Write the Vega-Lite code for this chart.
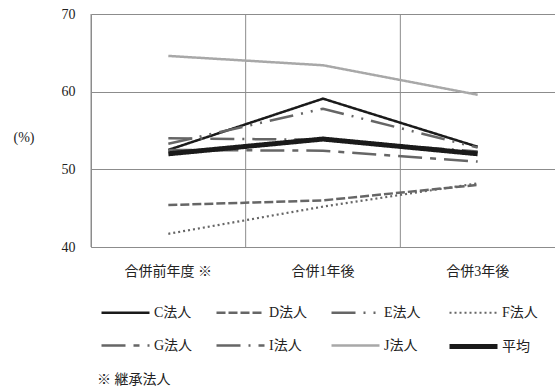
{
  "$schema": "https://vega.github.io/schema/vega-lite/v6.json",
  "width": 464,
  "height": 233,
  "autosize": {"type": "none"},
  "padding": {"left": 91, "top": 14, "right": 0, "bottom": 145},
  "background": "white",
  "config": {
    "font": "Liberation Serif, Noto Sans CJK JP",
    "view": {"stroke": null},
    "axis": {"domainColor": "#8c8c8c", "gridColor": "#8c8c8c", "gridWidth": 1, "domainWidth": 1, "ticks": false, "labelFont": "Liberation Serif, Noto Sans CJK JP", "labelFontSize": 14, "labelColor": "#222", "titleColor": "#222", "titleFont": "Liberation Serif, Noto Sans CJK JP"},
    "legend": {"labelFont": "Liberation Serif, Noto Sans CJK JP", "labelFontSize": 14, "labelColor": "#222"}
  },
  "title": {"text": "※ 継承法人", "orient": "bottom", "anchor": "start", "frame": "group", "dx": 6, "fontSize": 14, "fontWeight": "normal", "color": "#222", "font": "Liberation Serif, Noto Sans CJK JP", "offset": 8},
  "data": {"values": [
    {"series": "C法人", "period": "合併前年度 ※", "value": 52.5},
    {"series": "C法人", "period": "合併1年後", "value": 59.1},
    {"series": "C法人", "period": "合併3年後", "value": 52.9},
    {"series": "D法人", "period": "合併前年度 ※", "value": 45.4},
    {"series": "D法人", "period": "合併1年後", "value": 46.0},
    {"series": "D法人", "period": "合併3年後", "value": 48.0},
    {"series": "E法人", "period": "合併前年度 ※", "value": 53.3},
    {"series": "E法人", "period": "合併1年後", "value": 57.8},
    {"series": "E法人", "period": "合併3年後", "value": 52.8},
    {"series": "F法人", "period": "合併前年度 ※", "value": 41.7},
    {"series": "F法人", "period": "合併1年後", "value": 45.2},
    {"series": "F法人", "period": "合併3年後", "value": 48.2},
    {"series": "G法人", "period": "合併前年度 ※", "value": 52.5},
    {"series": "G法人", "period": "合併1年後", "value": 52.4},
    {"series": "G法人", "period": "合併3年後", "value": 51.0},
    {"series": "I法人", "period": "合併前年度 ※", "value": 54.0},
    {"series": "I法人", "period": "合併1年後", "value": 53.8},
    {"series": "I法人", "period": "合併3年後", "value": 52.3},
    {"series": "J法人", "period": "合併前年度 ※", "value": 64.6},
    {"series": "J法人", "period": "合併1年後", "value": 63.4},
    {"series": "J法人", "period": "合併3年後", "value": 59.6},
    {"series": "平均", "period": "合併前年度 ※", "value": 52.0},
    {"series": "平均", "period": "合併1年後", "value": 53.9},
    {"series": "平均", "period": "合併3年後", "value": 52.0}
  ]},
  "layer": [
    {
      "transform": [{"filter": "datum.series === 'C法人'"}],
      "mark": {"type": "rule", "color": "#8c8c8c", "strokeWidth": 1},
      "encoding": {
        "x": {"field": "period", "type": "nominal", "bandPosition": 0, "sort": null,
              "axis": {"title": null, "labelAngle": 0, "labelAlign": "center", "bandPosition": 0.5, "labelPadding": 17, "grid": false}}
      }
    },
    {
      "mark": {"type": "line", "strokeCap": "butt", "strokeJoin": "miter"},
      "encoding": {
        "x": {"field": "period", "type": "nominal", "sort": null, "scale": {"type": "band", "paddingInner": 0, "paddingOuter": 0},
              "axis": {"title": null, "labelAngle": 0, "labelAlign": "center", "bandPosition": 0.5, "labelPadding": 17, "grid": false}},
        "y": {"field": "value", "type": "quantitative", "scale": {"domain": [40, 70], "nice": false, "zero": false},
              "axis": {"values": [40, 50, 60, 70], "title": "(%)", "titleAngle": 0, "titleAlign": "right", "titleBaseline": "top", "titlePadding": 27, "titleFontSize": 14, "titleFontWeight": "normal", "labelPadding": 16, "grid": true}},
        "color": {"field": "series", "type": "nominal",
                  "scale": {"domain": ["C法人", "D法人", "E法人", "F法人", "G法人", "I法人", "J法人", "平均"],
                            "range": ["#1a1a1a", "#666666", "#666666", "#666666", "#666666", "#666666", "#a8a8a8", "#1a1a1a"]},
                  "legend": {"title": null, "orient": "bottom", "direction": "horizontal", "columns": 4, "symbolType": "stroke", "symbolSize": 2304, "labelOffset": 2, "columnPadding": 18, "rowPadding": -16, "offset": 1, "padding": 8}},
        "strokeDash": {"field": "series", "type": "nominal",
                  "scale": {"domain": ["C法人", "D法人", "E法人", "F法人", "G法人", "I法人", "J法人", "平均"],
                            "range": [[1, 0], [9, 3], [24, 8, 2, 8, 2, 8], [2, 3], [24, 8, 6, 8], [24, 8, 2, 8], [1, 0], [1, 0]]}},
        "strokeWidth": {"field": "series", "type": "ordinal",
                  "scale": {"type": "ordinal", "domain": ["C法人", "D法人", "E法人", "F法人", "G法人", "I法人", "J法人", "平均"],
                            "range": [2.5, 2.5, 2.5, 2.2, 2.5, 2.5, 2.5, 5]}},
        "order": {"field": "series"}
      }
    }
  ]
}
